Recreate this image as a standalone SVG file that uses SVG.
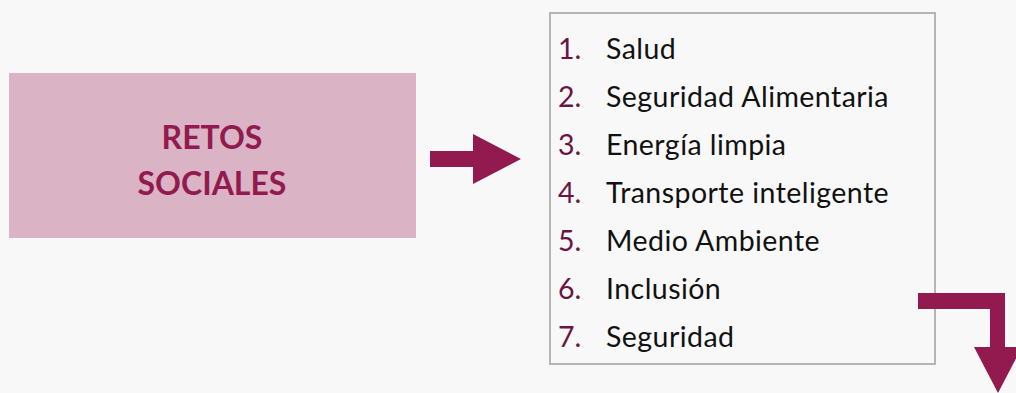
<svg xmlns="http://www.w3.org/2000/svg" width="1016" height="393" viewBox="0 0 1016 393">
<style>
.title{font-family:Lato,"Liberation Sans",sans-serif;font-weight:bold;font-size:32px;fill:#921a4f;text-anchor:middle}
.num{font-family:Lato,"Liberation Sans",sans-serif;font-size:28.5px;fill:#6b1443}
.item{font-family:Lato,"Liberation Sans",sans-serif;font-size:28.5px;letter-spacing:0.45px;fill:#111}
.arrow{fill:#921a4f}
</style>
<rect width="1016" height="393" fill="#f8f8f8"/>
<g id="retos">
<rect x="9" y="73" width="407" height="165" fill="#dab3c5"/>
<text class="title" x="212" y="149">RETOS</text>
<text class="title" x="212" y="195">SOCIALES</text>
</g>
<g id="lista">
<rect x="550" y="13" width="385" height="351" fill="#f8f8f8" stroke="#b5b5b5" stroke-width="2"/>
<text class="num" x="558" y="59">1.</text><text class="item" x="606" y="59">Salud</text>
<text class="num" x="558" y="107">2.</text><text class="item" x="606" y="107">Seguridad Alimentaria</text>
<text class="num" x="558" y="155">3.</text><text class="item" x="606" y="155">Energía limpia</text>
<text class="num" x="558" y="203">4.</text><text class="item" x="606" y="203">Transporte inteligente</text>
<text class="num" x="558" y="251">5.</text><text class="item" x="606" y="251">Medio Ambiente</text>
<text class="num" x="558" y="299">6.</text><text class="item" x="606" y="299">Inclusión</text>
<text class="num" x="558" y="347">7.</text><text class="item" x="606" y="347">Seguridad</text>
</g>
<g id="connectors">
<polygon class="arrow" points="430,151 473,151 473,134 521,159 473,184 473,167 430,167"/>
<polygon class="arrow" points="918,293 1005,293 1005,347 1022,347 998,393 974,347 990,347 990,309 918,309"/>
</g>
</svg>
